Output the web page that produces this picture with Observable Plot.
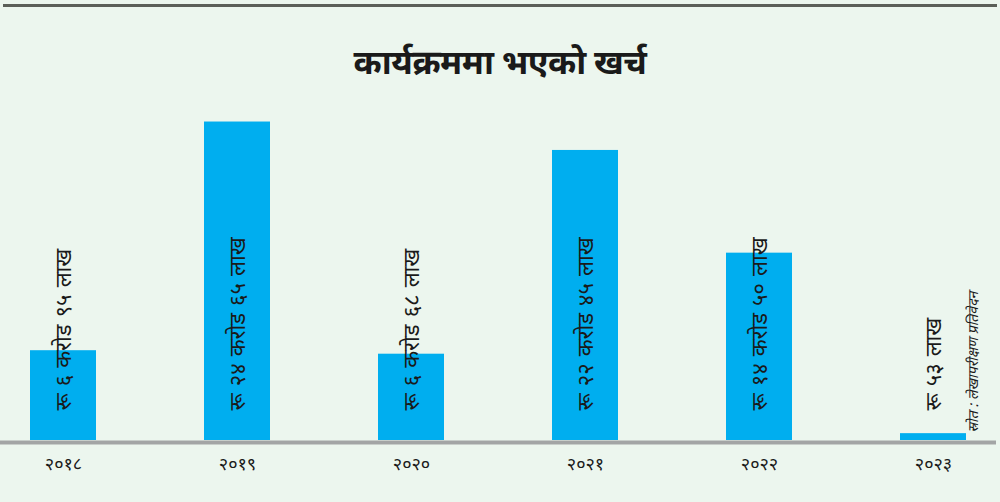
<!DOCTYPE html>
<html>
<head>
<meta charset="utf-8">
<script src="https://cdn.jsdelivr.net/npm/d3@7"></script>
<script src="https://cdn.jsdelivr.net/npm/@observablehq/plot@0.6"></script>
<style>
  html, body { margin: 0; padding: 0; background: #ecf6ee; }
  body { width: 1000px; height: 502px; overflow: hidden; font-family: "Noto Sans Devanagari", "Noto Sans", sans-serif; }
  #topline { position: absolute; top: 4px; left: 3px; width: 994px; height: 3px; background: #5b5f58; }
  #title { height: 100px; box-sizing: border-box; padding-top: 46px; text-align: center; font-size: 34px; font-weight: bold; color: #1a1a1a; line-height: 40px; letter-spacing: -0.5px; }
</style>
</head>
<body>
<div id="topline"></div>
<div id="title">कार्यक्रममा भएको खर्च</div>
<div id="chart"></div>
<script>
const years = ["२०१८", "२०१९", "२०२०", "२०२१", "२०२२", "२०२३"];
const amounts = [6.95, 24.65, 6.68, 22.45, 14.50, 0.53]; // करोड
const labels = [
  "रू ६ करोड ९५ लाख",
  "रू २४ करोड ६५ लाख",
  "रू ६ करोड ६८ लाख",
  "रू २२ करोड ४५ लाख",
  "रू १४ करोड ५० लाख",
  "रू ५३ लाख"
];
const source = "स्रोत : लेखापरीक्षण प्रतिवेदन";

const data = years.map((y, i) => ({year: y, value: amounts[i], label: labels[i]}));

const chart = Plot.plot({
  width: 1000,
  height: 402,
  marginLeft: 0,
  marginRight: 4,
  marginTop: 17,
  marginBottom: 62,
  style: {background: "transparent", fontFamily: "'Noto Sans Devanagari', 'Noto Sans', sans-serif", color: "#1a1a1a"},
  x: {domain: years, paddingInner: 0.62, paddingOuter: 0.166, label: null},
  y: {domain: [0, 25], axis: null},
  marks: [
    Plot.barY(data, {x: "year", y: "value", fill: "#00aeef"}),
    Plot.ruleY([0], {stroke: "#a3a5a5", strokeWidth: 4, dy: 2}),
    Plot.text(data, {x: "year", y: () => 0, text: d => d.label.replaceAll(" ", " \u200a"), rotate: -90, textAnchor: "start", dy: -30, fontSize: 22, fill: "#1a1a1a"}),
    Plot.text([source], {frameAnchor: "bottom-right", text: d => d, rotate: -90, textAnchor: "start", dx: -19, dy: -8, fontSize: 14, fontStyle: "italic", fill: "#1a1a1a"}),
    Plot.axisX({tickSize: 0, tickPadding: 17, fontSize: 18, label: null})
  ]
});
document.getElementById("chart").appendChild(chart);
</script>
</body>
</html>
